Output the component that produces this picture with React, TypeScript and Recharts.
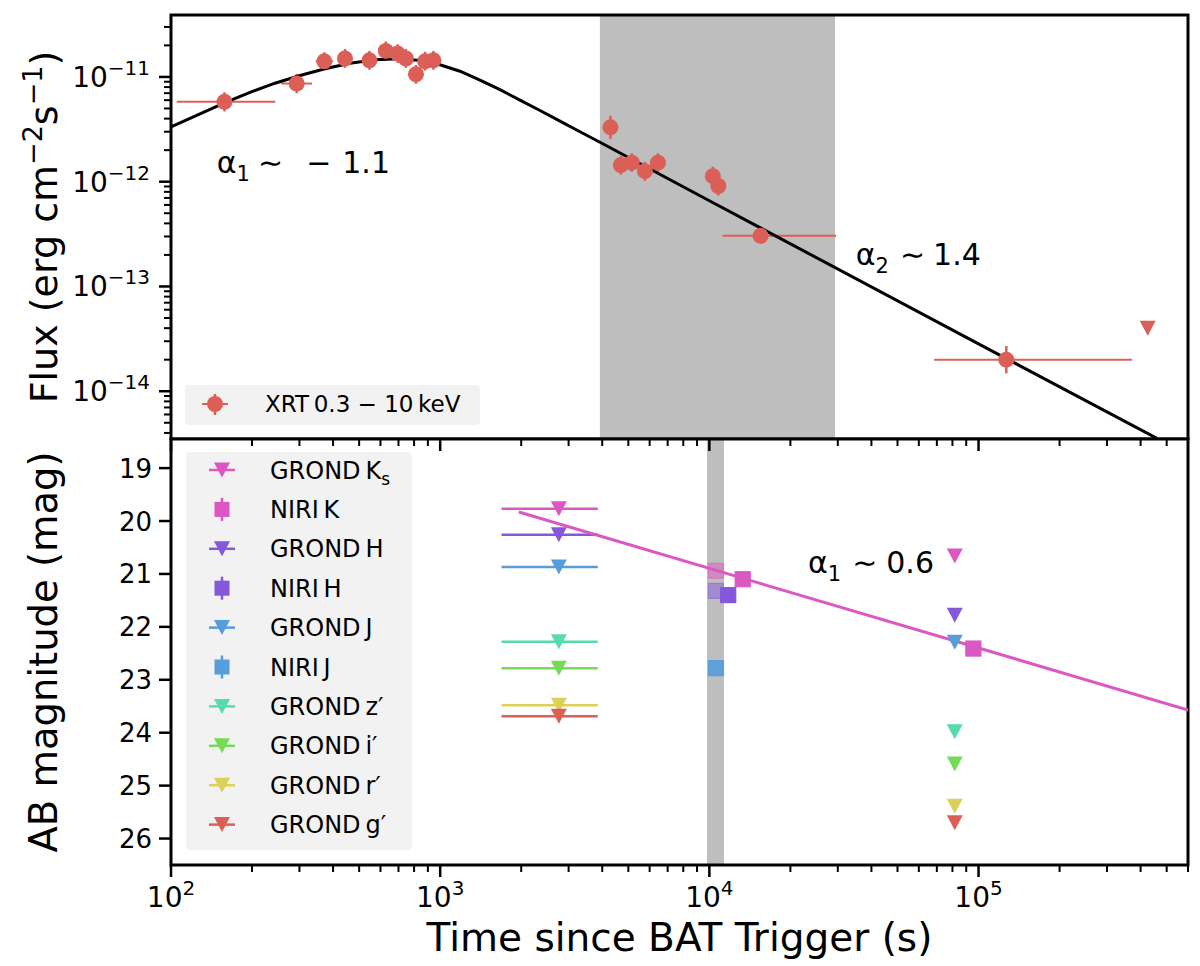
import React from "react";
import {
  ComposedChart,
  Scatter,
  XAxis,
  YAxis,
  ErrorBar,
  ReferenceArea,
  Legend,
} from "recharts";

const FONT = "'DejaVu Sans', Verdana, sans-serif";

// palette (hls, 7 colours) + xrt red
const RED = "#db5f57";
const YELLOW = "#dbd157";
const GREEN = "#75db57";
const TEAL = "#57dbab";
const BLUE = "#579cdb";
const PURPLE = "#8557db";
const MAGENTA = "#db57c1";
const BAND = "#bebebe";

// ---------- shared time axis ----------
const timeDomain = [100, 6e5];
const timeDecades = [100, 1000, 10000, 100000];
const minorSteps = [1, 2, 3, 4, 5, 6, 7, 8, 9];

// ---------- top panel: XRT 0.3-10 keV ----------
const fluxDomain = [3.5e-15, 3.9e-11];
const fluxDecades = [1e-15, 1e-14, 1e-13, 1e-12, 1e-11];

const xrtTime = [158, 293, 371, 443, 546, 628, 695, 746, 813, 879, 944, 4290, 4690, 5150, 5760, 6440, 10300, 10800, 15500, 126800];
const xrtFlux = [5.78e-12, 8.65e-12, 1.41e-11, 1.5e-11, 1.44e-11, 1.77e-11, 1.67e-11, 1.5e-11, 1.06e-11, 1.41e-11, 1.44e-11, 3.3e-12, 1.44e-12, 1.52e-12, 1.26e-12, 1.52e-12, 1.13e-12, 9.1e-13, 3.04e-13, 2.0e-14];
const xrtFluxLo = [4.68e-12, 7.0e-12, 1.16e-11, 1.22e-11, 1.17e-11, 1.44e-11, 1.36e-11, 1.22e-11, 8.6e-12, 1.15e-11, 1.17e-11, 2.56e-12, 1.17e-12, 1.24e-12, 1.02e-12, 1.24e-12, 9.2e-13, 7.4e-13, 2.59e-13, 1.48e-14];
const xrtFluxHi = [7.14e-12, 1.07e-11, 1.72e-11, 1.85e-11, 1.77e-11, 2.18e-11, 2.05e-11, 1.85e-11, 1.3e-11, 1.74e-11, 1.77e-11, 4.25e-12, 1.77e-12, 1.87e-12, 1.55e-12, 1.87e-12, 1.39e-12, 1.12e-12, 3.57e-13, 2.7e-14];
const xrtTimeLo = [105, 257, 345, null, null, null, null, null, null, null, null, null, null, null, null, null, null, null, 11200, 68400];
const xrtTimeHi = [244, 334, 400, null, null, null, null, null, null, null, null, null, null, null, null, null, null, null, 29600, 372000];

const xrtLimitTime = [425000];
const xrtLimitFlux = [4.0e-14];

// broken power-law fit
const xrtFitTime = [100, 128.2, 158.7, 196.6, 243.4, 301.5, 373.3, 462.3, 572.6, 709.1, 841.3, 998.3, 1184.6, 1405.6, 1667.9, 1979, 2348.6, 2786.8, 3306.9, 3923.8, 10000, 100000, 460000];
const xrtFitFlux = [3.34e-12, 4.43e-12, 5.68e-12, 7.12e-12, 8.71e-12, 1.031e-11, 1.197e-11, 1.351e-11, 1.455e-11, 1.49e-11, 1.436e-11, 1.306e-11, 1.133e-11, 9.34e-12, 7.55e-12, 6.01e-12, 4.78e-12, 3.78e-12, 3.0e-12, 2.377e-12, 6.58e-13, 2.833e-14, 3.55e-15];

const xrtBand = [3920, 29300];

// ---------- bottom panel: optical / NIR ----------
const magDomain = [18.45, 26.5];
const magTicks = [19, 20, 21, 22, 23, 24, 25, 26];

const grondTime = [2760, 81600];
const grondEarlyLo = 1690;
const grondEarlyHi = 3850;
const grondKs = [19.77, 20.66];
const grondH = [20.26, 21.78];
const grondJ = [20.87, 22.29];
const grondZ = [22.28, 23.98];
const grondI = [22.78, 24.59];
const grondR = [23.48, 25.39];
const grondG = [23.69, 25.7];

const niriKTime = [13300, 95700];
const niriKMag = [21.1, 22.41];
const niriHTime = [11750];
const niriHMag = [21.4];
const niriJTime = [10580];
const niriJMag = [22.78];
const niriKFadedTime = [10580];
const niriKFadedMag = [20.94];
const niriHFadedTime = [10580];
const niriHFadedMag = [21.32];

const optFitTime = [1960, 6e5];
const optFitMag = [19.83, 23.57];

const optBand = [9800, 11330];

// annotation anchors (left end of text, baseline)
const alphaRiseAt = { t: 148, f: 1.2e-12 };
const alphaDecayAt = { t: 35000, f: 1.61e-13 };
const alphaOptAt = { t: 23250, m: 20.975 };

// ---------- derived tables ----------
const isDecade = (v: number) =>
  Math.abs(Math.log10(v) - Math.round(Math.log10(v))) < 1e-6;
const expText = (v: number) => String(Math.round(Math.log10(v))).replace("-", "\u2212");

const timeTicks = timeDecades
  .flatMap((d) => minorSteps.map((s) => d * s))
  .concat([2e5, 3e5, 4e5, 5e5, 6e5])
  .filter((v, i, a) => v >= timeDomain[0] && v <= timeDomain[1] * 1.0001 && a.indexOf(v) === i);

const fluxTicks = fluxDecades
  .flatMap((d) => minorSteps.map((s) => d * s))
  .filter((v) => v >= fluxDomain[0] && v <= fluxDomain[1]);

const xrtRows = xrtTime.map((t, i) => ({
  t,
  f: xrtFlux[i],
  fErr: [xrtFlux[i] - xrtFluxLo[i], xrtFluxHi[i] - xrtFlux[i]],
  tErr: xrtTimeLo[i] == null ? [0, 0] : [t - (xrtTimeLo[i] as number), (xrtTimeHi[i] as number) - t],
}));
const xrtLimitRows = xrtLimitTime.map((t, i) => ({ t, f: xrtLimitFlux[i] }));
const xrtFitRows = xrtFitTime.map((t, i) => ({ t, f: xrtFitFlux[i] }));

const grondRows = (mags: number[]) =>
  grondTime.map((t, i) => ({
    t,
    m: mags[i],
    tErr: i === 0 ? [t - grondEarlyLo, grondEarlyHi - t] : [0, 0],
  }));
const pointRows = (ts: number[], ms: number[]) => ts.map((t, i) => ({ t, m: ms[i] }));

const grondSeries = [
  { color: MAGENTA, rows: grondRows(grondKs) },
  { color: PURPLE, rows: grondRows(grondH) },
  { color: BLUE, rows: grondRows(grondJ) },
  { color: TEAL, rows: grondRows(grondZ) },
  { color: GREEN, rows: grondRows(grondI) },
  { color: YELLOW, rows: grondRows(grondR) },
  { color: RED, rows: grondRows(grondG) },
];

const optLegend = [
  { label: ["GROND", "K", "s"], color: MAGENTA, kind: "tri" },
  { label: ["NIRI", "K", ""], color: MAGENTA, kind: "sq" },
  { label: ["GROND", "H", ""], color: PURPLE, kind: "tri" },
  { label: ["NIRI", "H", ""], color: PURPLE, kind: "sq" },
  { label: ["GROND", "J", ""], color: BLUE, kind: "tri" },
  { label: ["NIRI", "J", ""], color: BLUE, kind: "sq" },
  { label: ["GROND", "z\u2032", ""], color: TEAL, kind: "tri" },
  { label: ["GROND", "i\u2032", ""], color: GREEN, kind: "tri" },
  { label: ["GROND", "r\u2032", ""], color: YELLOW, kind: "tri" },
  { label: ["GROND", "g\u2032", ""], color: RED, kind: "tri" },
];

// ---------- marks ----------
const Empty = () => <g />;

const Dot = (color: string) => (p: any) => <circle cx={p.cx} cy={p.cy} r={8} fill={color} />;

const Tri = (color: string, opacity = 1) => (p: any) => (
  <path
    d={`M${p.cx - 8},${p.cy - 7.5}L${p.cx + 8},${p.cy - 7.5}L${p.cx},${p.cy + 7.5}Z`}
    fill={color}
    opacity={opacity}
  />
);

const Sq = (color: string, opacity = 1) => (p: any) => (
  <rect
    x={p.cx - 7.5}
    y={p.cy - 7.5}
    width={15}
    height={15}
    fill={color}
    fillOpacity={opacity}
    stroke={color}
    strokeOpacity={opacity}
    strokeWidth={1.2}
  />
);

// α annotation drawn at a data anchor
const Alpha = (sub: string, parts: { gap: number; text: string }[]) => (p: any) => (
  <text x={p.cx} y={p.cy} fontSize={30} fontFamily={FONT} fill="#000">
    {"\u03b1"}
    <tspan dy={8} fontSize={21}>
      {sub}
    </tspan>
    {parts.map((q, i) => (
      <tspan key={i} dx={q.gap} dy={i === 0 ? -8 : 0}>
        {q.text}
      </tspan>
    ))}
  </text>
);

// ---------- ticks ----------
function TimeTick(props: any) {
  const { x, y, payload, showLabel } = props;
  const v = payload.value;
  const major = isDecade(v);
  return (
    <g>
      <line x1={x} x2={x} y1={y} y2={y + (major ? 12 : 7)} stroke="#000" strokeWidth={major ? 2.5 : 2} />
      {showLabel && major && (
        <text x={x} y={y + 42} textAnchor="middle" fontSize={28} fontFamily={FONT} fill="#000">
          10
          <tspan dy={-12} fontSize={20}>
            {expText(v)}
          </tspan>
        </text>
      )}
    </g>
  );
}

function FluxTick(props: any) {
  const { x, y, payload } = props;
  const v = payload.value;
  const major = isDecade(v);
  return (
    <g>
      <line x1={x - (major ? 12 : 7)} x2={x} y1={y} y2={y} stroke="#000" strokeWidth={major ? 2.5 : 2} />
      {major && (
        <text x={x - 21} y={y + 10} textAnchor="end" fontSize={28} fontFamily={FONT} fill="#000">
          10
          <tspan dy={-12} fontSize={20}>
            {expText(v)}
          </tspan>
        </text>
      )}
    </g>
  );
}

function MagTick(props: any) {
  const { x, y, payload } = props;
  return (
    <g>
      <line x1={x - 12} x2={x} y1={y} y2={y} stroke="#000" strokeWidth={2.5} />
      <text x={x - 19} y={y + 9.5} textAnchor="end" fontSize={26} fontFamily={FONT} fill="#000">
        {payload.value}
      </text>
    </g>
  );
}

// ---------- axis titles ----------
function FluxTitle(props: any) {
  const vb = props.viewBox ?? { x: 0, y: 15, width: 171, height: 424 };
  const cx = vb.x + 57;
  const cy = vb.y + vb.height / 2;
  return (
    <text x={cx} y={cy} transform={`rotate(-90 ${cx} ${cy})`} textAnchor="middle" fontSize={38} fontFamily={FONT} fill="#000">
      Flux (erg cm
      <tspan dy={-15} fontSize={27}>
        {"\u22122"}
      </tspan>
      <tspan dy={15}>s</tspan>
      <tspan dy={-15} fontSize={27}>
        {"\u22121"}
      </tspan>
      <tspan dy={15}>)</tspan>
    </text>
  );
}

function MagTitle(props: any) {
  const vb = props.viewBox ?? { x: 0, y: 9, width: 171, height: 426 };
  const cx = vb.x + 57;
  const cy = vb.y + vb.height / 2;
  return (
    <text x={cx} y={cy} transform={`rotate(-90 ${cx} ${cy})`} textAnchor="middle" fontSize={38.5} fontFamily={FONT} fill="#000">
      AB magnitude (mag)
    </text>
  );
}

function TimeTitle(props: any) {
  const vb = props.viewBox ?? { x: 171, y: 435, width: 1017, height: 101 };
  return (
    <text x={vb.x + vb.width / 2} y={vb.y + 86} textAnchor="middle" fontSize={39} fontFamily={FONT} fill="#000">
      Time since BAT Trigger (s)
    </text>
  );
}

// ---------- legends ----------
function XrtLegend() {
  return (
    <svg width={295} height={40} style={{ display: "block" }}>
      <rect x={0} y={0} width={295} height={40} rx={4} fill="#f2f2f2" />
      <line x1={17} x2={43} y1={19} y2={19} stroke={RED} strokeWidth={2} />
      <line x1={30} x2={30} y1={9} y2={30} stroke={RED} strokeWidth={2.5} />
      <circle cx={30} cy={19} r={8} fill={RED} />
      <text x={80} y={27} fontSize={23} fontFamily={FONT} fill="#000">
        XRT{"\u2009"}0.3 {"\u2212"} 10{"\u2009"}keV
      </text>
    </svg>
  );
}

function OptLegend() {
  return (
    <svg width={226} height={398} style={{ display: "block" }}>
      <rect x={0} y={0} width={226} height={398} rx={4} fill="#f2f2f2" />
      {optLegend.map((e, i) => {
        const cy = 18 + i * 39.4;
        return (
          <g key={i}>
            {e.kind === "tri" ? (
              <>
                <line x1={23} x2={49} y1={cy} y2={cy} stroke={e.color} strokeWidth={2.5} />
                <path d={`M${28},${cy - 7.5}L${44},${cy - 7.5}L${36},${cy + 7.5}Z`} fill={e.color} />
              </>
            ) : (
              <>
                <line x1={36} x2={36} y1={cy - 11.5} y2={cy + 11.5} stroke={e.color} strokeWidth={2.5} />
                <rect x={28.5} y={cy - 7.5} width={15} height={15} fill={e.color} />
              </>
            )}
            <text x={84} y={cy + 8.5} fontSize={24} fontFamily={FONT} fill="#000">
              {e.label[0]}
              {"\u2009"}
              {e.label[1]}
              {e.label[2] && (
                <tspan dy={6} fontSize={17}>
                  {e.label[2]}
                </tspan>
              )}
            </text>
          </g>
        );
      })}
    </svg>
  );
}

// ---------- panels ----------
function FluxPanel() {
  return (
    <ComposedChart width={1200} height={440} margin={{ top: 15, right: 12, bottom: 1, left: 0 }}>
      <XAxis dataKey="t" type="number" scale="log" domain={timeDomain} allowDataOverflow hide />
      <YAxis
        dataKey="f"
        type="number"
        scale="log"
        domain={fluxDomain}
        allowDataOverflow
        width={171}
        ticks={fluxTicks}
        interval={0}
        tick={<FluxTick />}
        tickSize={0}
        tickMargin={0}
        tickLine={false}
        axisLine={false}
        label={<FluxTitle />}
      />
      <ReferenceArea
        x1={xrtBand[0]}
        x2={xrtBand[1]}
        y1={fluxDomain[0]}
        y2={fluxDomain[1]}
        fill={BAND}
        fillOpacity={1}
        stroke="none"
        ifOverflow="visible"
      />
      <Scatter
        data={xrtFitRows}
        line={{ stroke: "#000", strokeWidth: 3 }}
        shape={Empty}
        legendType="none"
        isAnimationActive={false}
      />
      <Scatter data={xrtRows} shape={Dot(RED)} fill={RED} legendType="none" isAnimationActive={false}>
        <ErrorBar dataKey="tErr" direction="x" width={0} stroke={RED} strokeWidth={2} isAnimationActive={false} />
        <ErrorBar dataKey="fErr" direction="y" width={0} stroke={RED} strokeWidth={2.5} isAnimationActive={false} />
      </Scatter>
      <Scatter data={xrtLimitRows} shape={Tri(RED)} fill={RED} legendType="none" isAnimationActive={false} />
      <Scatter
        data={[alphaRiseAt]}
        shape={Alpha("1", [
          { gap: 8, text: "\u223c" },
          { gap: 23, text: "\u2212" },
          { gap: 11, text: "1.1" },
        ])}
        legendType="none"
        isAnimationActive={false}
      />
      <Scatter
        data={[alphaDecayAt]}
        shape={Alpha("2", [
          { gap: 11, text: "\u223c" },
          { gap: 8, text: "1.4" },
        ])}
        legendType="none"
        isAnimationActive={false}
      />
      <ReferenceArea
        x1={timeDomain[0]}
        x2={timeDomain[1]}
        y1={fluxDomain[0]}
        y2={fluxDomain[1]}
        fill="none"
        stroke="#000"
        strokeWidth={3}
        ifOverflow="visible"
      />
      <Legend
        layout="horizontal"
        verticalAlign="middle"
        align="center"
        content={() => <XrtLegend />}
        wrapperStyle={{ left: 185, top: 385, width: 295, height: 40 }}
      />
    </ComposedChart>
  );
}

function MagPanel() {
  return (
    <ComposedChart width={1200} height={536} margin={{ top: 8, right: 12, bottom: 0, left: 0 }}>
      <XAxis
        xAxisId="top"
        orientation="top"
        dataKey="t"
        type="number"
        scale="log"
        domain={timeDomain}
        allowDataOverflow
        height={1}
        ticks={timeTicks}
        interval={0}
        tick={<TimeTick />}
        tickSize={0}
        tickMargin={0}
        tickLine={false}
        axisLine={false}
      />
      <XAxis
        dataKey="t"
        type="number"
        scale="log"
        domain={timeDomain}
        allowDataOverflow
        height={101}
        ticks={timeTicks}
        interval={0}
        tick={<TimeTick showLabel />}
        tickSize={0}
        tickMargin={0}
        tickLine={false}
        axisLine={false}
        label={<TimeTitle />}
      />
      <YAxis
        dataKey="m"
        type="number"
        domain={magDomain}
        allowDataOverflow
        reversed
        width={171}
        ticks={magTicks}
        interval={0}
        tick={<MagTick />}
        tickSize={0}
        tickMargin={0}
        tickLine={false}
        axisLine={false}
        label={<MagTitle />}
      />
      <ReferenceArea
        x1={optBand[0]}
        x2={optBand[1]}
        y1={magDomain[0]}
        y2={magDomain[1]}
        fill={BAND}
        fillOpacity={1}
        stroke="none"
        ifOverflow="visible"
      />
      <Scatter
        data={pointRows(optFitTime, optFitMag)}
        line={{ stroke: MAGENTA, strokeWidth: 3 }}
        shape={Empty}
        legendType="none"
        isAnimationActive={false}
      />
      {grondSeries.map((s, i) => (
        <Scatter key={i} data={s.rows} shape={Tri(s.color)} fill={s.color} legendType="none" isAnimationActive={false}>
          <ErrorBar dataKey="tErr" direction="x" width={0} stroke={s.color} strokeWidth={2.5} isAnimationActive={false} />
        </Scatter>
      ))}
      <Scatter data={pointRows(niriKFadedTime, niriKFadedMag)} shape={Sq(MAGENTA, 0.5)} legendType="none" isAnimationActive={false} />
      <Scatter data={pointRows(niriHFadedTime, niriHFadedMag)} shape={Sq(PURPLE, 0.5)} legendType="none" isAnimationActive={false} />
      <Scatter data={pointRows(niriJTime, niriJMag)} shape={Sq(BLUE, 0.9)} legendType="none" isAnimationActive={false} />
      <Scatter data={pointRows(niriHTime, niriHMag)} shape={Sq(PURPLE)} legendType="none" isAnimationActive={false} />
      <Scatter data={pointRows(niriKTime, niriKMag)} shape={Sq(MAGENTA)} legendType="none" isAnimationActive={false} />
      <Scatter
        data={[alphaOptAt]}
        shape={Alpha("1", [
          { gap: 11, text: "\u223c" },
          { gap: 9, text: "0.6" },
        ])}
        legendType="none"
        isAnimationActive={false}
      />
      <ReferenceArea
        x1={timeDomain[0]}
        x2={timeDomain[1]}
        y1={magDomain[0]}
        y2={magDomain[1]}
        fill="none"
        stroke="#000"
        strokeWidth={3}
        ifOverflow="visible"
      />
      <Legend
        layout="horizontal"
        verticalAlign="middle"
        align="center"
        content={() => <OptLegend />}
        wrapperStyle={{ left: 186, top: 22, width: 226, height: 398 }}
      />
    </ComposedChart>
  );
}

export default function App() {
  return (
    <div style={{ position: "absolute", left: 0, top: 0, width: 1200, height: 966, background: "#fff", fontFamily: FONT }}>
      <div style={{ position: "absolute", left: 0, top: 0 }}>
        <FluxPanel />
      </div>
      <div style={{ position: "absolute", left: 0, top: 430 }}>
        <MagPanel />
      </div>
    </div>
  );
}
